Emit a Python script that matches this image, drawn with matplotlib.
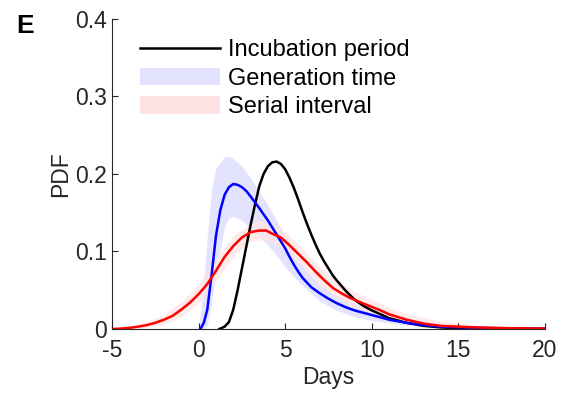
import numpy as np
import matplotlib.pyplot as plt
from matplotlib.patches import Patch
from matplotlib.lines import Line2D

plt.rcParams['font.family'] = ['Liberation Sans', 'DejaVu Sans']
plt.rcParams['axes.unicode_minus'] = False

# incubation period
inc_days = [1.2, 1.5, 1.75, 2.0, 2.25, 2.5, 2.75, 3.0, 3.25, 3.5, 3.75, 4.0, 4.25, 4.5,
            4.75, 5.0, 5.25, 5.5, 5.75, 6.0, 6.25, 6.5, 6.75, 7.0, 7.25, 7.5, 7.75, 8.0,
            8.5, 9.0, 9.5, 10.0, 10.5, 11.0, 12.0, 13.0, 14.0, 15.0, 17.0, 20.0]
inc_pdf = [0.0, 0.003, 0.009, 0.025, 0.05, 0.078, 0.106, 0.134, 0.16, 0.184, 0.2, 0.21,
           0.215, 0.216, 0.213, 0.206, 0.195, 0.182, 0.167, 0.151, 0.136, 0.122, 0.109,
           0.097, 0.087, 0.078, 0.069, 0.062, 0.049, 0.038, 0.03, 0.024, 0.019, 0.014,
           0.008, 0.004, 0.002, 0.001, 0.0003, 0.0]

# generation time
gen_days = [0.1, 0.3, 0.5, 0.75, 1.0, 1.25, 1.5, 1.75, 2.0, 2.25, 2.5, 2.75, 3.0, 3.5,
            4.0, 4.5, 5.0, 5.25, 5.5, 5.75, 6.0, 6.25, 6.5, 7.0, 7.5, 8.0, 8.5, 9.0,
            10.0, 11.0, 12.0, 13.0, 14.0, 16.0, 18.0, 20.0]
gen_pdf = [0.0, 0.008, 0.025, 0.07, 0.12, 0.153, 0.173, 0.183, 0.187, 0.186, 0.183,
           0.178, 0.171, 0.156, 0.14, 0.122, 0.104, 0.093, 0.083, 0.074, 0.066, 0.06,
           0.054, 0.046, 0.039, 0.033, 0.028, 0.024, 0.018, 0.012, 0.008, 0.005, 0.003,
           0.0015, 0.0007, 0.0003]
gen_band_days = [0.0, 0.3, 0.5, 0.75, 1.0, 1.5, 1.75, 2.0, 2.5, 3.0, 3.5, 4.0, 4.5, 5.0,
                 5.5, 6.0, 7.0, 8.0, 9.0, 10.0, 12.0, 14.0, 17.0, 20.0]
gen_lo = [0.0, 0.0, 0.005, 0.035, 0.075, 0.132, 0.143, 0.145, 0.14, 0.13, 0.12, 0.108,
          0.095, 0.08, 0.067, 0.056, 0.036, 0.024, 0.016, 0.011, 0.005, 0.002, 0.0005, 0.0]
gen_hi = [0.0, 0.06, 0.12, 0.18, 0.208, 0.222, 0.223, 0.22, 0.21, 0.195, 0.177, 0.16,
          0.14, 0.12, 0.098, 0.08, 0.057, 0.042, 0.033, 0.025, 0.012, 0.006, 0.002, 0.001]

# serial interval
ser_days = [-5.0, -4.5, -4.0, -3.5, -3.0, -2.5, -2.0, -1.5, -1.0, -0.5, 0.0, 0.5, 1.0,
            1.5, 2.0, 2.5, 3.0, 3.5, 3.9, 4.25, 4.75, 5.25, 5.75, 6.25, 6.75, 7.25, 7.75,
            8.25, 8.75, 9.5, 10.5, 11.0, 12.0, 13.0, 14.0, 16.0, 18.0, 20.0]
ser_pdf = [0.0, 0.0005, 0.0015, 0.003, 0.005, 0.008, 0.012, 0.017, 0.025, 0.034, 0.045,
           0.058, 0.075, 0.093, 0.107, 0.118, 0.125, 0.127, 0.127, 0.123, 0.118, 0.108,
           0.097, 0.086, 0.074, 0.063, 0.053, 0.046, 0.04, 0.033, 0.024, 0.019, 0.012,
           0.007, 0.004, 0.002, 0.001, 0.0005]
ser_band_days = [-5.0, -4.0, -3.0, -2.0, -1.0, 0.0, 1.0, 2.0, 3.0, 3.5, 4.0, 5.0, 6.0,
                 7.0, 8.0, 9.0, 10.0, 11.0, 12.0, 14.0, 16.0, 18.0, 20.0]
ser_lo = [0.0, 0.0005, 0.002, 0.006, 0.016, 0.034, 0.062, 0.094, 0.113, 0.115, 0.114,
          0.102, 0.08, 0.057, 0.04, 0.028, 0.02, 0.014, 0.008, 0.003, 0.001, 0.0005, 0.0002]
ser_hi = [0.001, 0.003, 0.009, 0.019, 0.035, 0.058, 0.09, 0.12, 0.137, 0.14, 0.138,
          0.125, 0.103, 0.08, 0.062, 0.048, 0.038, 0.028, 0.02, 0.01, 0.005, 0.003, 0.0015]

xticks = [-5, 0, 5, 10, 15, 20]
yticks = [0, 0.1, 0.2, 0.3, 0.4]
ytick_labels = ['0', '0.1', '0.2', '0.3', '0.4']

axcol = '#262626'
blue_fill = '#e3e3ff'
red_fill = '#ffe3e3'

fig = plt.figure(figsize=(5.63, 3.94), dpi=100)
ax = fig.add_axes([0.199, 0.165, 0.769, 0.787])

ax.fill_between(gen_band_days, gen_lo, gen_hi, color=blue_fill, lw=0)
ax.fill_between(ser_band_days, ser_lo, ser_hi, color=red_fill, lw=0, alpha=0.75)
ax.plot(inc_days, inc_pdf, color='black', lw=1.8)
ax.plot(gen_days, gen_pdf, color='blue', lw=1.8)
ax.plot(ser_days, ser_pdf, color='red', lw=1.8)

ax.set_xlim(-5, 20)
ax.set_ylim(0, 0.4)
ax.set_xticks(xticks)
ax.set_yticks(yticks)
ax.set_yticklabels(ytick_labels)
for s in ['top', 'right']:
    ax.spines[s].set_visible(False)
for s in ['left', 'bottom']:
    ax.spines[s].set_color(axcol)
    ax.spines[s].set_linewidth(0.8)
ax.tick_params(direction='in', length=4, width=0.8, colors=axcol, labelsize=16.5)
ax.tick_params(axis='x', pad=7)
ax.tick_params(axis='y', pad=3.5)
ax.set_xlabel('Days', fontsize=16.5, color=axcol, labelpad=3)
ax.set_ylabel('PDF', fontsize=16.5, color=axcol, labelpad=2)

handles = [Line2D([], [], color='black', lw=1.8),
           Patch(facecolor=blue_fill, edgecolor='none'),
           Patch(facecolor=red_fill, edgecolor='none')]
labels = ['Incubation period', 'Generation time', 'Serial interval']
ax.legend(handles, labels, loc='upper left', bbox_to_anchor=(0.065, 0.935), frameon=False,
          fontsize=17, handlelength=3.4, handleheight=0.75, labelspacing=0.28,
          handletextpad=0.3, borderaxespad=0, borderpad=0)

fig.text(0.028, 0.915, 'E', fontsize=19, fontweight='bold', color='black')

fig.savefig('out.png', dpi=100)
